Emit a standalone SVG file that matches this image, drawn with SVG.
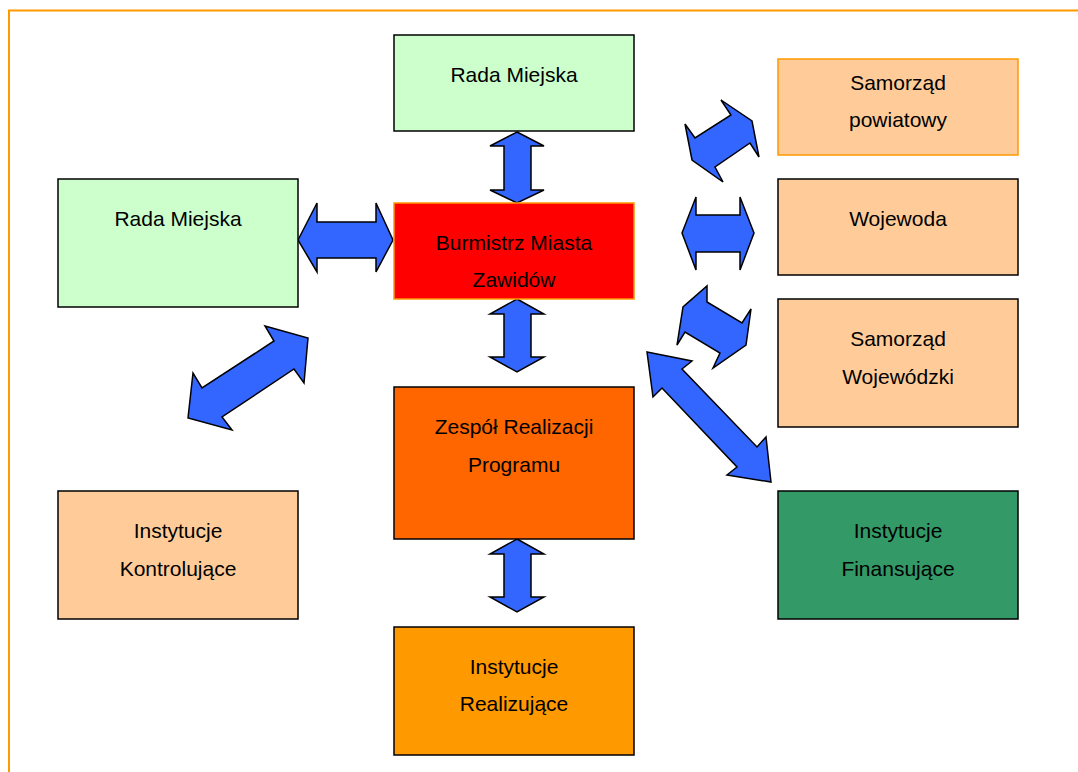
<svg xmlns="http://www.w3.org/2000/svg" width="1078" height="772" viewBox="0 0 1078 772">
<style>
.box{stroke:#000;stroke-width:1.5}
.ob{stroke:#FF9900;stroke-width:1.5}
.t{font-family:"Liberation Sans",Arial,sans-serif;font-size:21px;fill:#000;text-anchor:middle}
.arr{fill:#3366FF;stroke:#000;stroke-width:1.5;stroke-linejoin:miter}
</style>
<rect width="1078" height="772" fill="#fff"/>
<rect x="9" y="10.5" width="1100" height="800" fill="none" stroke="#FF9900" stroke-width="2"/>
<g id="connectors">
<polygon class="arr" points="517,132 544,146 531,146 531,190 544,190 517,203 490,190 504,190 504,146 490,146"/>
<polygon class="arr" points="517,299 544,314 531,314 531,357 544,357 517,372 490,357 504,357 504,314 490,314"/>
<polygon class="arr" points="517,539 544,554 531,554 531,597 544,597 517,612 490,597 504,597 504,554 490,554"/>
<polygon class="arr" points="298,240 317,203 317,222 376,222 376,203 393,240 376,272 376,258 317,258 317,272"/>
<polygon class="arr" points="682,233 696,197 696,215 740,215 740,197 754,233 740,270 740,252 696,252 696,270"/>
<polygon class="arr" points="308,338 304,383 294,369 222,417 232,430 188,418 193,373 202,388 274,341 265,326"/>
<polygon class="arr" points="721,100 752,121 759,157 750,143 715,167 723,182 692,160 685,124 695,138 731,115"/>
<polygon class="arr" points="707,286 707,302 742,323 751,309 746,345 713,368 720,353 685,332 677,345 683,307"/>
<polygon class="arr" points="647,352 692,361 682,369 757,447 766,437 771,482 727,475 737,467 662,388 653,397"/>
</g>
<g id="rada-top">
<rect class="box" x="394" y="35" width="240" height="96" fill="#CCFFCC"/>
<text class="t" x="514" y="82">Rada Miejska</text>
</g>
<g id="rada-left">
<rect class="box" x="58" y="179" width="240" height="128" fill="#CCFFCC"/>
<text class="t" x="178" y="226">Rada Miejska</text>
</g>
<g id="burmistrz">
<rect class="ob" x="394" y="203" width="240" height="96" fill="#FF0000"/>
<text class="t" x="514" y="250">Burmistrz Miasta</text>
<text class="t" x="514" y="287">Zawidów</text>
</g>
<g id="zespol">
<rect class="box" x="394" y="387" width="240" height="152" fill="#FF6600"/>
<text class="t" x="514" y="434">Zespół Realizacji</text>
<text class="t" x="514" y="472">Programu</text>
</g>
<g id="realizujace">
<rect class="box" x="394" y="627" width="240" height="128" fill="#FF9900"/>
<text class="t" x="514" y="674">Instytucje</text>
<text class="t" x="514" y="711">Realizujące</text>
</g>
<g id="kontrolujace">
<rect class="box" x="58" y="491" width="240" height="128" fill="#FFCC99"/>
<text class="t" x="178" y="538">Instytucje</text>
<text class="t" x="178" y="576">Kontrolujące</text>
</g>
<g id="powiat">
<rect class="ob" x="778" y="59" width="240" height="96" fill="#FFCC99"/>
<text class="t" x="898" y="90">Samorząd</text>
<text class="t" x="898" y="127">powiatowy</text>
</g>
<g id="wojewoda">
<rect class="box" x="778" y="179" width="240" height="96" fill="#FFCC99"/>
<text class="t" x="898" y="226">Wojewoda</text>
</g>
<g id="wojewodzki">
<rect class="box" x="778" y="299" width="240" height="128" fill="#FFCC99"/>
<text class="t" x="898" y="346">Samorząd</text>
<text class="t" x="898" y="384">Wojewódzki</text>
</g>
<g id="finansujace">
<rect class="box" x="778" y="491" width="240" height="128" fill="#339966"/>
<text class="t" x="898" y="538">Instytucje</text>
<text class="t" x="898" y="576">Finansujące</text>
</g>
</svg>
